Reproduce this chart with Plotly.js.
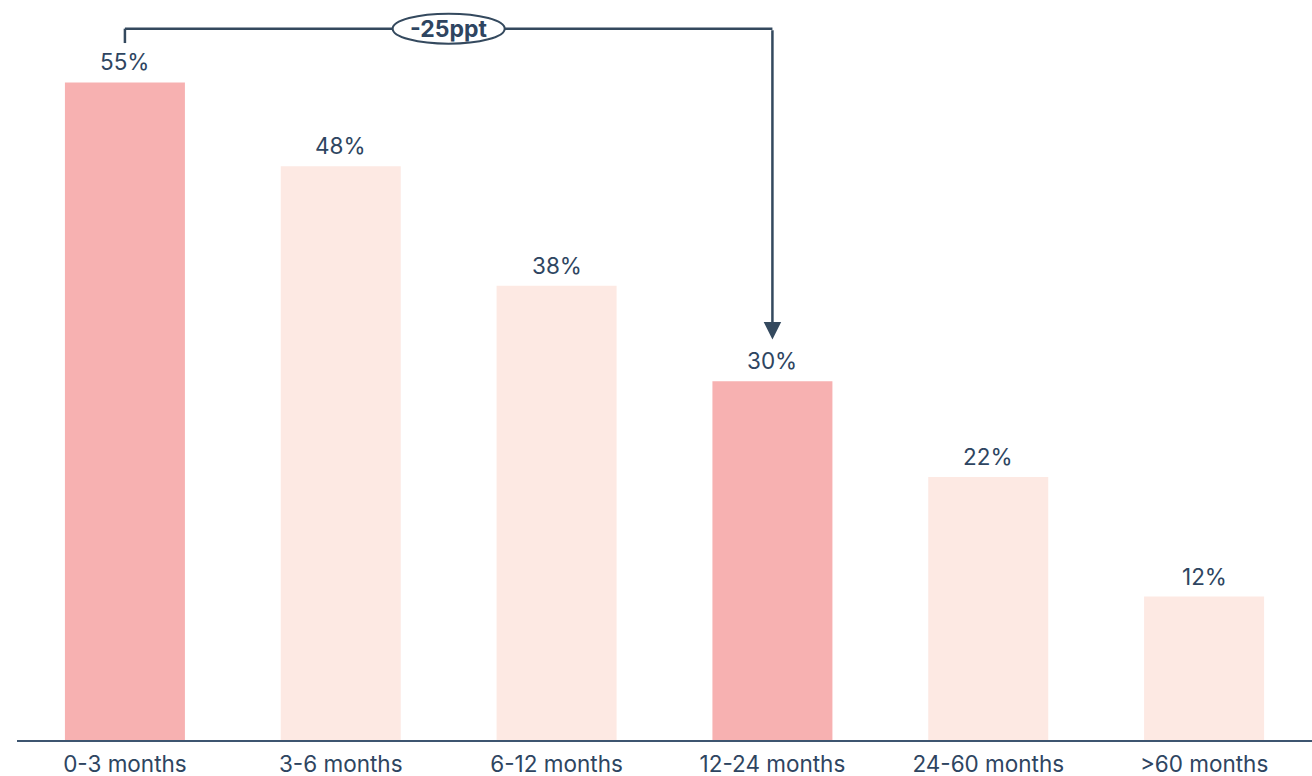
<!DOCTYPE html>
<html>
<head>
<meta charset="utf-8">
<script src="https://cdn.plot.ly/plotly-3.0.1.min.js"></script>
<style>html,body{margin:0;padding:0;background:#fff;}#chart{width:1312px;height:776px;}</style>
</head>
<body>
<div id="chart"></div>
<script>
const categories = ["0-3 months", "3-6 months", "6-12 months", "12-24 months", "24-60 months", ">60 months"];
const values = [55, 48, 38, 30, 22, 12];
const labels = ["55%", "48%", "38%", "30%", "22%", "12%"];
const highlighted = [true, false, false, true, false, false];
const deltaLabel = "-25ppt";

const darkPink = "#f7b1b1";
const lightPink = "#fde9e3";
const ink = "#2e4561";
const lineCol = "#34495e";
const FONT = "Inter, 'Open Sans', Arial, sans-serif";

const colors = highlighted.map(h => h ? darkPink : lightPink);

const trace = {
  type: "bar",
  x: categories,
  y: values,
  marker: {color: colors, line: {width: 0}},
  hoverinfo: "skip"
};

const bracketY = 59.5;
const i0 = 0, i1 = 3;

const valueLabels = categories.map((c, i) => ({
  xref: "x", yref: "y", x: c, y: values[i], yanchor: "bottom", yshift: 5,
  showarrow: false, text: labels[i],
  font: {family: FONT, size: 22.5, color: ink}
}));

const layout = {
  width: 1312, height: 776,
  margin: {l: 17, r: 0, t: 0, b: 36},
  paper_bgcolor: "#fff", plot_bgcolor: "#fff",
  bargap: 0.444,
  showlegend: false,
  xaxis: {
    type: "category",
    showline: true, linecolor: "#3d5570", linewidth: 2,
    showgrid: false, zeroline: false, ticks: "",
    ticklabelstandoff: 3,
    tickfont: {family: FONT, size: 22.5, color: ink},
    fixedrange: true
  },
  yaxis: {
    range: [0, 61.9], visible: false, showgrid: false, zeroline: false, fixedrange: true
  },
  shapes: [
    {type: "line", xref: "x", yref: "y", x0: i0, x1: i0, y0: 58.3, y1: bracketY, line: {color: lineCol, width: 2.5}},
    {type: "line", xref: "x", yref: "y", x0: i0, x1: i1, y0: bracketY, y1: bracketY, line: {color: lineCol, width: 2.5}},
    {type: "circle", xref: "x", yref: "y", xsizemode: "pixel", ysizemode: "pixel",
     xanchor: (i0 + i1) / 2, yanchor: bracketY, x0: -56, x1: 56, y0: -15, y1: 15,
     fillcolor: "#fff", line: {color: lineCol, width: 2}}
  ],
  annotations: valueLabels.concat([
    {xref: "x", yref: "y", x: i1, y: 33.5, axref: "x", ayref: "y", ax: i1, ay: bracketY,
     showarrow: true, arrowhead: 2, arrowsize: 1.4, arrowwidth: 2.5, arrowcolor: lineCol, text: ""},
    {xref: "x", yref: "y", x: (i0 + i1) / 2, y: bracketY, showarrow: false,
     text: "<b>" + deltaLabel + "</b>", font: {family: FONT, size: 23, color: ink}}
  ])
};

Plotly.newPlot("chart", [trace], layout, {displayModeBar: false, staticPlot: true});
</script>
</body>
</html>
